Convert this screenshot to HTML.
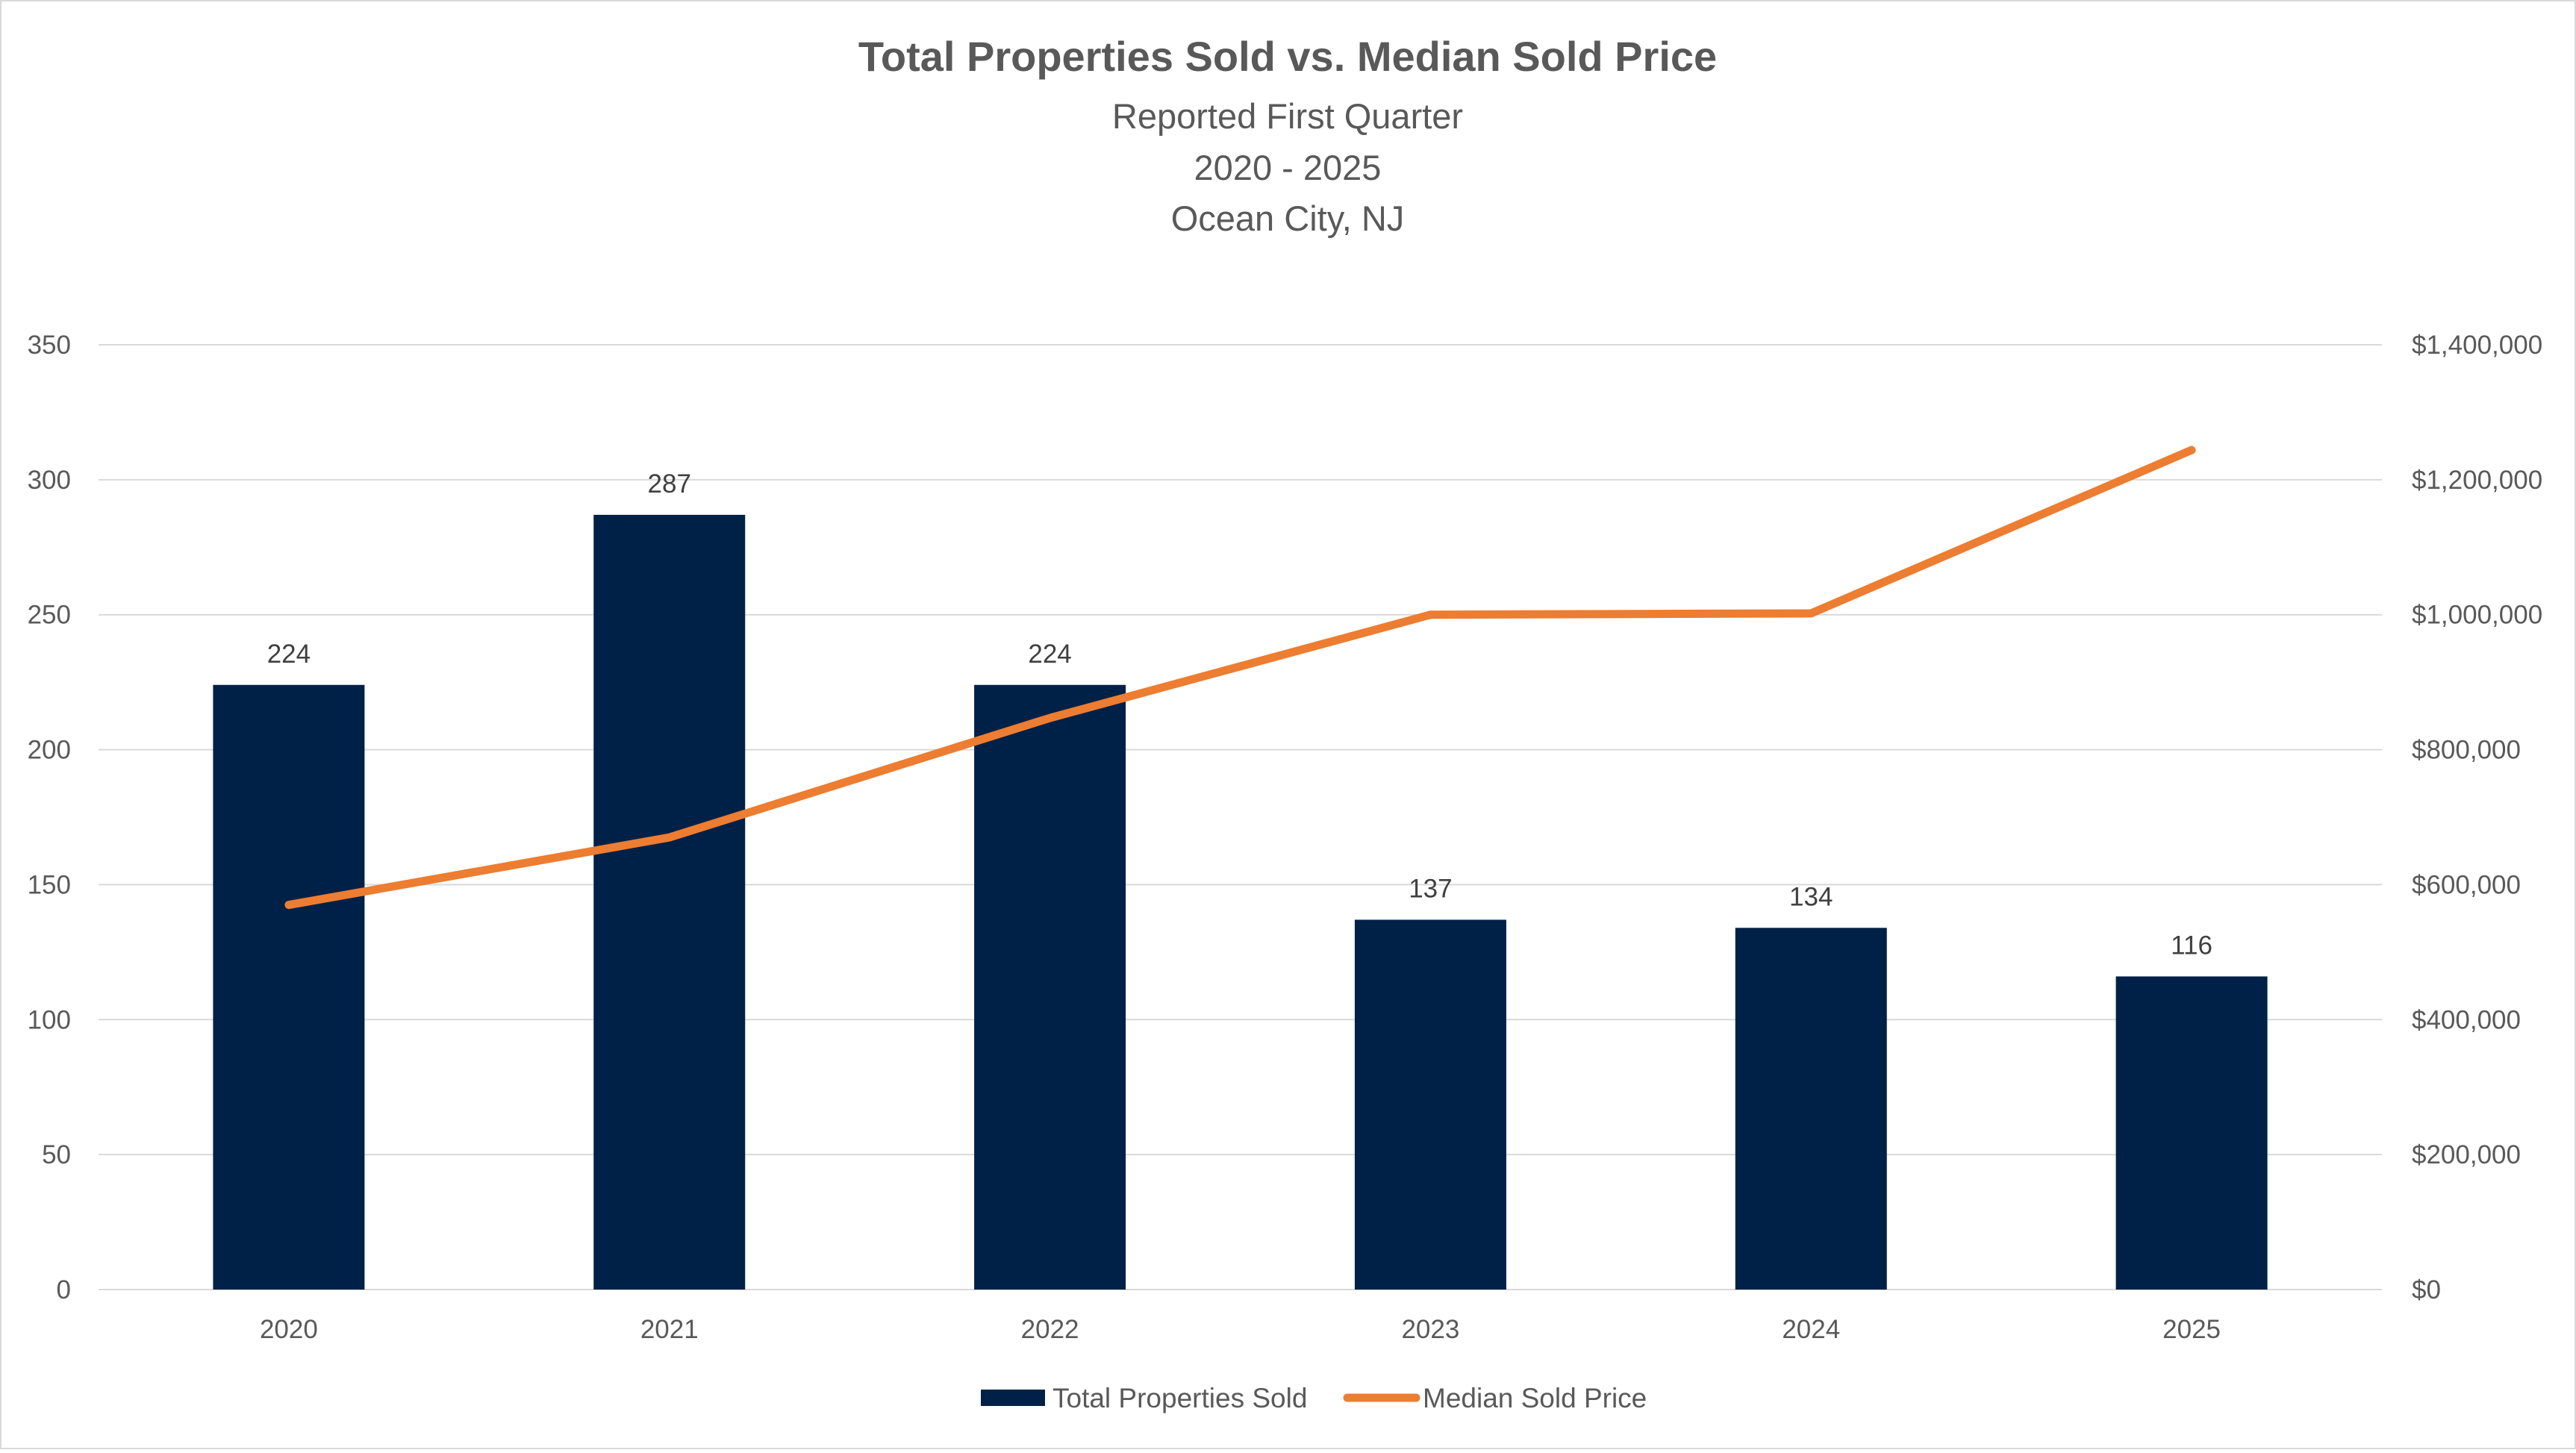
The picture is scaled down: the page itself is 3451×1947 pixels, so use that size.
<!DOCTYPE html>
<html><head><meta charset="utf-8"><style>
html,body{margin:0;padding:0;background:#fff;}
svg text{font-family:"Liberation Sans",sans-serif;}
</style></head><body>
<svg id="chart" width="3451" height="1942" viewBox="0 0 3451 1942" xmlns="http://www.w3.org/2000/svg">
<rect x="1" y="1" width="3449" height="1940" fill="#fff" stroke="#d9d9d9" stroke-width="2"/>
<text x="1725" y="95" text-anchor="middle" font-size="56" font-weight="bold" fill="#595959">Total Properties Sold vs. Median Sold Price</text>
<text x="1725" y="172" text-anchor="middle" font-size="47" fill="#595959">Reported First Quarter</text>
<text x="1725" y="241" text-anchor="middle" font-size="47" fill="#595959">2020 - 2025</text>
<text x="1725" y="309" text-anchor="middle" font-size="47" fill="#595959">Ocean City, NJ</text>
<g id="grid"></g><g id="bars"></g><g id="line"></g><g id="labels"></g>
<g>
<rect x="1314" y="1862" width="86" height="22" fill="#002147"/>
<text x="1410" y="1886" font-size="37" fill="#595959">Total Properties Sold</text>
<line x1="1805" y1="1873" x2="1897" y2="1873" stroke="#ed7d31" stroke-width="11" stroke-linecap="round"/>
<text x="1906" y="1886" font-size="37" fill="#595959">Median Sold Price</text>
</g>
</svg>
<script>
const categories=["2020","2021","2022","2023","2024","2025"];
const soldCounts=[224,287,224,137,134,116];
const medianPrices=[570000,670000,847000,1000000,1002000,1244000];
const leftTicks=[0,50,100,150,200,250,300,350];
const rightTickLabels=["$0","$200,000","$400,000","$600,000","$800,000","$1,000,000","$1,200,000","$1,400,000"];
const NS="http://www.w3.org/2000/svg";
const X0=132,X1=3191,Y0=1728,Y1=462;
const yL=v=>Y0-(v/350)*(Y0-Y1);
const yR=v=>Y0-(v/1400000)*(Y0-Y1);
const step=(X1-X0)/categories.length;
const xC=i=>X0+step*(i+0.5);
function mk(tag,attrs,parent,txt){const e=document.createElementNS(NS,tag);for(const k in attrs)e.setAttribute(k,attrs[k]);if(txt!==undefined)e.textContent=txt;document.getElementById(parent).appendChild(e);return e;}
leftTicks.forEach((t,i)=>{
 const y=yL(t);
 const g=mk('line',{x1:X0,x2:X1,y1:y,y2:y,stroke:'#d9d9d9','stroke-width':2},'grid');
 
 
 const l=mk('text',{x:95,y:y+12,'text-anchor':'end','font-size':35,fill:'#595959'},'labels',String(t));
 
 
 const r=mk('text',{x:3231,y:y+12,'font-size':35,fill:'#595959'},'labels',rightTickLabels[i]);
 
 
});
const bw=203;
categories.forEach((c,i)=>{
 const y=yL(soldCounts[i]);
 const b=mk('rect',{x:xC(i)-bw/2,y:y,width:bw,height:Y0-y,fill:'#002147'},'bars');
 
 
 const v=mk('text',{x:xC(i),y:y-30,'text-anchor':'middle','font-size':35,fill:'#404040'},'labels',String(soldCounts[i]));
 
 
 const xl=mk('text',{x:xC(i),y:1793,'text-anchor':'middle','font-size':35,fill:'#595959'},'labels',c);
 
 
});
const pts=medianPrices.map((v,i)=>xC(i)+','+yR(v)).join(' ');
const pl=mk('polyline',{points:pts,fill:'none',stroke:'#ed7d31','stroke-width':11,'stroke-linecap':'round','stroke-linejoin':'round'},'line');


</script>
</body></html>
